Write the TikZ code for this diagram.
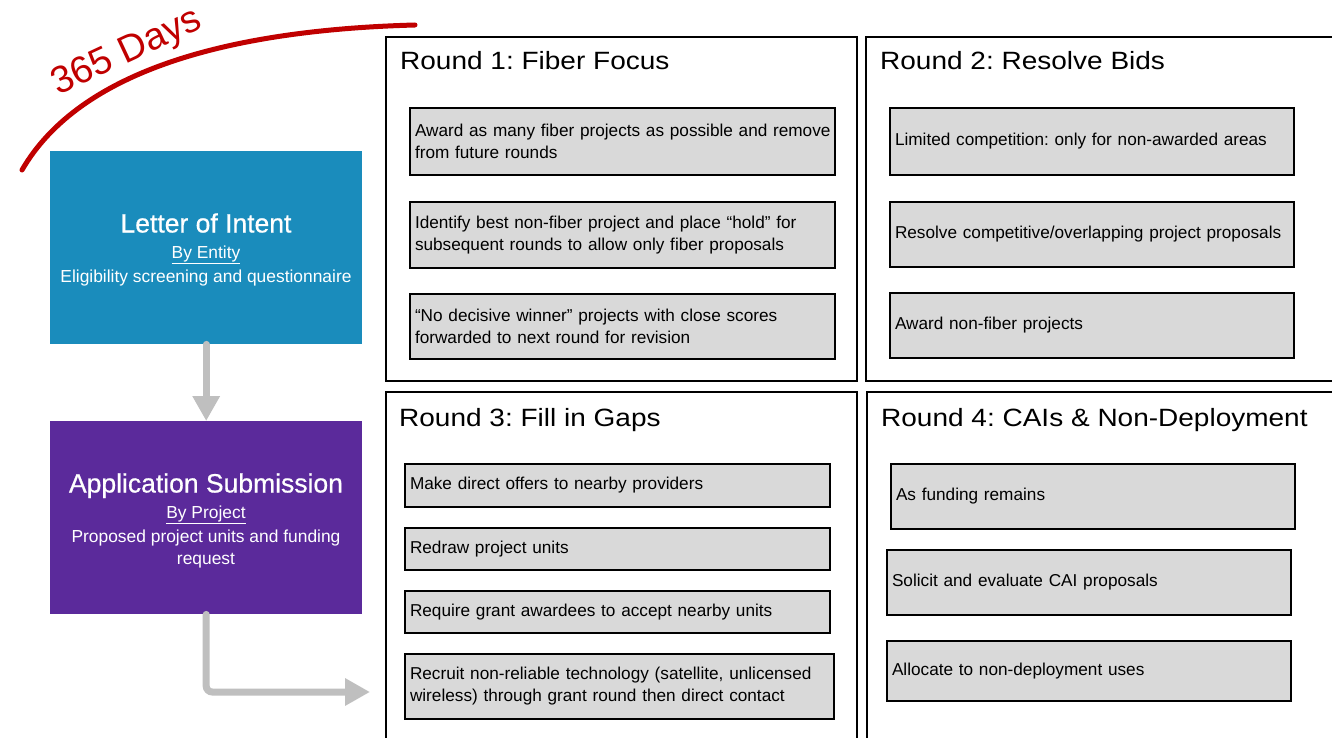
\documentclass[tikz,border=0pt]{standalone}
\usepackage{fontspec}
\setmainfont{Liberation Sans}
\newfontfamily\titlefont[FakeStretch=1.12]{Liberation Sans}
\newfontfamily\medfont[FakeBold=0.6]{Liberation Sans}
\usetikzlibrary{arrows.meta}
\definecolor{loiblue}{HTML}{1A8CBC}
\definecolor{apppurple}{HTML}{5B2A9B}
\definecolor{arrowgray}{HTML}{BFBFBF}
\definecolor{boxgray}{HTML}{D9D9D9}
\definecolor{dayred}{HTML}{C00000}
\tikzset{
  frame/.style={draw=black, line width=2pt, anchor=north west, inner sep=0pt},
  rtitle/.style={anchor=base west, inner sep=0pt, font=\titlefont\fontsize{25}{28}\selectfont},
  item/.style={draw=black, line width=2pt, fill=boxgray, inner xsep=5pt, inner ysep=0pt, align=left,
    font=\fontsize{17.2}{22}\selectfont},
  stepbox/.style={anchor=north west, inner sep=0pt},
  sidetitle/.style={anchor=base, inner sep=0pt, text=white, font=\medfont\fontsize{26.5}{28}\selectfont},
  sidetext/.style={anchor=base, inner sep=0pt, text=white, font=\fontsize{17.4}{22}\selectfont},
  garrow/.style={draw=arrowgray, line width=7pt, line cap=round, -{Triangle[length=25pt,width=26pt]}},
}
\begin{document}
\frenchspacing
\begin{tikzpicture}[x=1pt, y=-1pt]
\useasboundingbox (0,0) rectangle (1332,738);
\clip (0,0) rectangle (1332,738);
\fill[white] (0,0) rectangle (1332,738);

% 365 days arc
\coordinate (arcS) at (22,170);
\coordinate (arcE) at (415,25);
\draw[dayred, line width=5pt, line cap=round] (arcS) .. controls (80,70) and (230,30) .. (arcE);
\node[text=dayred, rotate=25, inner sep=0pt, font=\fontsize{38}{40}\selectfont] (days) at (127,53) {365 Days};

% left boxes
\node[stepbox, fill=loiblue, minimum width=312pt, minimum height=193pt] (loi) at (50,151) {};
\node[sidetitle] (loiT) at (206,232.5) {Letter of Intent};
\node[sidetext] (loiB) at (206,258) {\underline{By Entity}};
\node[sidetext] (loiC) at (206,282) {Eligibility screening and questionnaire};

\node[stepbox, fill=apppurple, minimum width=312pt, minimum height=193pt] (app) at (50,421) {};
\node[sidetitle] (appT) at (206,492.5) {Application Submission};
\node[sidetext] (appB) at (206,518) {\underline{By Project}};
\node[sidetext] (appC) at (206,542) {Proposed project units and funding};
\node[sidetext] (appD) at (206,564) {request};

\draw[garrow] (loi.south) -- (app.north);
\coordinate (tip) at (370,692);
\draw[garrow, rounded corners=6pt] (app.south) |- (tip);

% round frames
\node[frame, minimum width=471pt, minimum height=344pt] (r1) at (385,36) {};
\node[frame, minimum width=490pt, minimum height=344pt] (r2) at (865,36) {};
\node[frame, minimum width=471pt, minimum height=370pt] (r3) at (385,391) {};
\node[frame, minimum width=490pt, minimum height=370pt] (r4) at (866,391) {};

\node[rtitle] (r1t) at (400,70) {Round 1: Fiber Focus};
\node[rtitle] (r2t) at (880,70) {Round 2: Resolve Bids};
\node[rtitle] (r3t) at (399,426) {Round 3: Fill in Gaps};
\node[rtitle] (r4t) at (881,426) {Round 4: CAIs \& Non-Deployment};

% round 1 items
\node[item, minimum width=425pt, minimum height=67pt, text width=415pt] (a1) at (622.5,141.5)
  {\mbox{Award as many fiber projects as possible and remove}\\from future rounds};
\node[item, minimum width=425pt, minimum height=66pt, text width=415pt] (a2) at (622.5,235)
  {\mbox{Identify best non-fiber project and place “hold” for}\\subsequent rounds to allow only fiber proposals};
\node[item, minimum width=425pt, minimum height=65pt, text width=415pt] (a3) at (622.5,326.5)
  {“No decisive winner” projects with close scores\\forwarded to next round for revision};

% round 2 items
\node[item, minimum width=404pt, minimum height=67pt, text width=394pt] (b1) at (1092,141.5)
  {Limited competition: only for non-awarded areas};
\node[item, minimum width=404pt, minimum height=65pt, text width=394pt] (b2) at (1092,234)
  {\mbox{Resolve competitive/overlapping project proposals}};
\node[item, minimum width=404pt, minimum height=65pt, text width=394pt] (b3) at (1092,325.5)
  {Award non-fiber projects};

% round 3 items
\node[item, minimum width=425pt, minimum height=43pt, text width=415pt] (c1) at (617.5,485.5)
  {Make direct offers to nearby providers};
\node[item, minimum width=425pt, minimum height=42pt, text width=415pt] (c2) at (617.5,549)
  {Redraw project units};
\node[item, minimum width=425pt, minimum height=42pt, text width=415pt] (c3) at (617.5,612)
  {Require grant awardees to accept nearby units};
\node[item, minimum width=429pt, minimum height=65pt, text width=419pt] (c4) at (619.5,686)
  {\mbox{Recruit non-reliable technology (satellite, unlicensed}\\wireless) through grant round then direct contact};

% round 4 items
\node[item, minimum width=404pt, minimum height=65pt, text width=394pt] (d1) at (1093,496.5)
  {As funding remains};
\node[item, minimum width=404pt, minimum height=65pt, text width=394pt] (d2) at (1089,582.5)
  {Solicit and evaluate CAI proposals};
\node[item, minimum width=404pt, minimum height=60pt, text width=394pt] (d3) at (1089,671)
  {Allocate to non-deployment uses};
\end{tikzpicture}
\end{document}
